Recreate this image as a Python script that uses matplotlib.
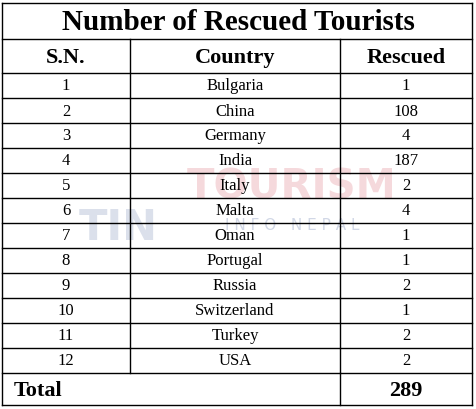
import matplotlib
matplotlib.use('Agg')
import matplotlib.pyplot as plt

title = "Number of Rescued Tourists"
headers = ["S.N.", "Country", "Rescued"]
sn = list(range(1, 13))
countries = ["Bulgaria", "China", "Germany", "India", "Italy", "Malta", "Oman",
             "Portugal", "Russia", "Switzerland", "Turkey", "USA"]
rescued = [1, 108, 4, 187, 2, 4, 1, 1, 2, 1, 2, 2]
total = 289

W, H = 476, 410
fig = plt.figure(figsize=(W / 100, H / 100), dpi=100)
ax = fig.add_axes([0, 0, 1, 1])
ax.set_xlim(0, W)
ax.set_ylim(H, 0)
ax.axis('off')
plt.rcParams['font.family'] = 'Liberation Serif'

cols = [2, 130, 340, 472]
title_top, head_top, data_top, row_h = 4, 40, 74, 25
total_top = data_top + row_h * len(countries)
bottom = 406

# faint watermark
ax.text(118, 228, "TIN", fontsize=30, fontweight='bold', color='#9aa8c8', alpha=0.35,
        ha='center', va='center', family='DejaVu Sans', zorder=0)
ax.text(292, 188, "TOURISM", fontsize=29, fontweight='bold', color='#e8a0a8', alpha=0.4,
        ha='center', va='center', family='DejaVu Sans', zorder=0)
ax.text(292, 226, "I N F O   N E P A L", fontsize=11, color='#9aa8c8', alpha=0.45,
        ha='center', va='center', family='DejaVu Sans', zorder=0)

lw = 1.0
for y in [title_top, head_top, data_top] + [data_top + row_h * i for i in range(1, len(countries) + 1)] + [bottom]:
    ax.plot([cols[0], cols[-1]], [y, y], color='black', lw=lw)
ax.plot([cols[0], cols[0]], [title_top, bottom], color='black', lw=lw)
ax.plot([cols[-1], cols[-1]], [title_top, bottom], color='black', lw=lw)
for x in cols[1:-1]:
    ax.plot([x, x], [head_top, total_top], color='black', lw=lw)
ax.plot([cols[2], cols[2]], [total_top, bottom], color='black', lw=lw)

ax.text(W / 2, (title_top + head_top) / 2 + 1, title, fontsize=21, fontweight='bold',
        ha='center', va='center')
for i, h in enumerate(headers):
    ax.text((cols[i] + cols[i + 1]) / 2, (head_top + data_top) / 2 + 1, h, fontsize=16,
            fontweight='bold', ha='center', va='center')
for r, (n, c, v) in enumerate(zip(sn, countries, rescued)):
    yc = data_top + row_h * r + row_h / 2
    for i, t in enumerate([n, c, v]):
        ax.text((cols[i] + cols[i + 1]) / 2, yc, str(t), fontsize=12,
                ha='center', va='center')
ax.text(14, (total_top + bottom) / 2 + 1, "Total", fontsize=16, fontweight='bold',
        ha='left', va='center')
ax.text((cols[2] + cols[3]) / 2, (total_top + bottom) / 2 + 1, str(total), fontsize=16,
        fontweight='bold', ha='center', va='center')

fig.savefig('out.png', dpi=100)
